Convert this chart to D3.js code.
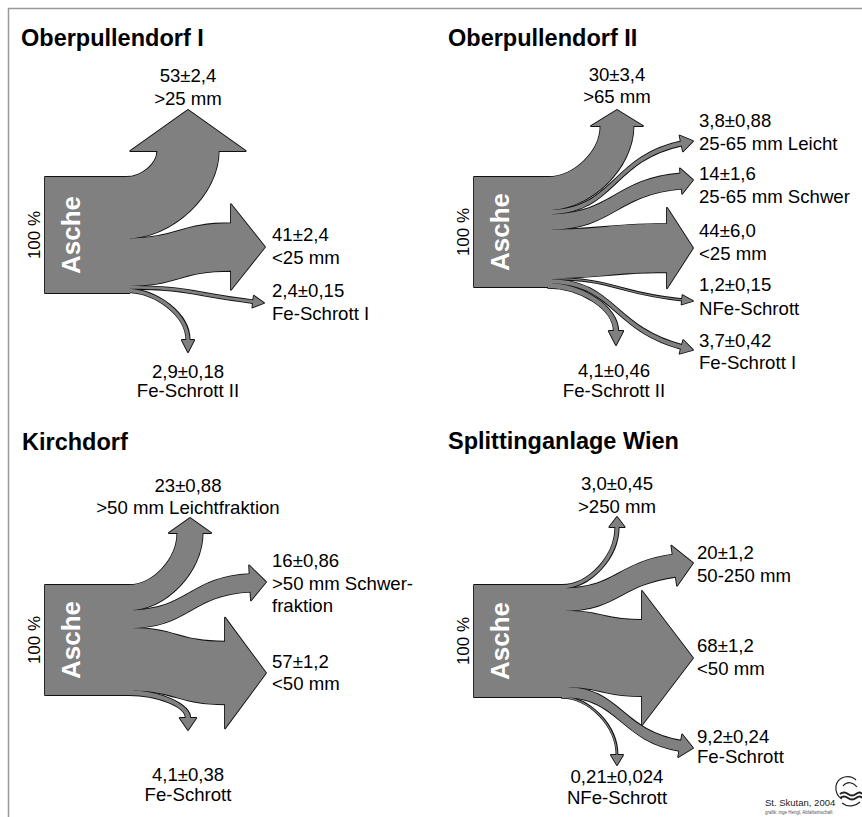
<!DOCTYPE html>
<html><head><meta charset="utf-8">
<script src="https://cdn.jsdelivr.net/npm/d3@7"></script>
<style>html,body{margin:0;padding:0;background:#fff;} svg{display:block;font-family:"Liberation Sans",Arial,sans-serif;}</style>
</head><body>
<svg id="c" width="862" height="817"></svg>
<script>
// ---------------- DATA ----------------
const panelTitles = ["Oberpullendorf I", "Oberpullendorf II", "Kirchdorf", "Splittinganlage Wien"];
const sourceName = "Asche";
const sourceTotal = 100;

const op1Names  = [">25 mm", "<25 mm", "Fe-Schrott I", "Fe-Schrott II"];
const op1Values = [53, 41, 2.4, 2.9];
const op1Errors = [2.4, 2.4, 0.15, 0.18];

const op2Names  = [">65 mm", "25-65 mm Leicht", "25-65 mm Schwer", "<25 mm", "NFe-Schrott", "Fe-Schrott I", "Fe-Schrott II"];
const op2Values = [30, 3.8, 14, 44, 1.2, 3.7, 4.1];
const op2Errors = [3.4, 0.88, 1.6, 6.0, 0.15, 0.42, 0.46];

const kdNames  = [">50 mm Leichtfraktion", ">50 mm Schwer-\nfraktion", "<50 mm", "Fe-Schrott"];
const kdValues = [23, 16, 57, 4.1];
const kdErrors = [0.88, 0.86, 1.2, 0.38];

const swNames  = [">250 mm", "50-250 mm", "<50 mm", "Fe-Schrott", "NFe-Schrott"];
const swValues = [3.0, 20, 68, 9.2, 0.21];
const swErrors = [0.45, 1.2, 1.2, 0.24, 0.024];

const creditText = "St. Skutan, 2004";
const creditSmall = "grafik: inge Hengl, Abfallwirtschaft";

// ---------------- LAYOUT (positions / styles) ----------------
const layouts = [
  {x0:45, y0:177, h:116, xr:130, tx:21, ty:46, flows:[
    {tip:[188,110], ang:-90, len:41, ext:27, lx:188, ly:82,  gap:23, anchor:"middle"},
    {tip:[265,247], ang:0,   len:34, ext:19, lx:272, ly:241, gap:23},
    {tip:[264,303], ang:7,   len:11, ext:4.5,lx:272, ly:297, gap:23},
    {tip:[188,352], ang:90,  len:12, ext:4.5,lx:188, ly:378, gap:19, anchor:"middle"}]},
  {x0:474, y0:177, h:110, xr:552, tx:448, ty:46, flows:[
    {tip:[617,110], ang:-90, len:16, ext:9.5, lx:617, ly:81,  gap:22, anchor:"middle"},
    {tip:[693,141], ang:-12, len:12, ext:6,   lx:699, ly:127, gap:23},
    {tip:[693,180], ang:-5,  len:12, ext:5,   lx:699, ly:180, gap:23},
    {tip:[693,248], ang:0,   len:26, ext:16,  lx:699, ly:237, gap:23},
    {tip:[693,301], ang:6,   len:11, ext:4,   lx:699, ly:291, gap:24},
    {tip:[693,350], ang:15,  len:12, ext:5,   lx:699, ly:347, gap:22},
    {tip:[616,345], ang:90,  len:14, ext:5,   lx:614, ly:377, gap:20, anchor:"middle"}]},
  {x0:45, y0:585, h:110, xr:133, tx:22, ty:450, flows:[
    {tip:[190,518], ang:-90, len:15, ext:8.5, lx:188, ly:492, gap:22, anchor:"middle"},
    {tip:[266,582], ang:-3,  len:16, ext:8.7, lx:272, ly:567, gap:22.5},
    {tip:[266,673], ang:0,   len:41, ext:24,  lx:272, ly:668, gap:22},
    {tip:[188,730], ang:90,  len:12, ext:6,   lx:188, ly:781, gap:20, anchor:"middle"}]},
  {x0:474, y0:585, h:112, xr:566, tx:448, ty:449, flows:[
    {tip:[617,517], ang:-90, len:10, ext:6,   lx:617, ly:490, gap:23, anchor:"middle"},
    {tip:[693,563], ang:-8,  len:19, ext:9,   lx:697, ly:559, gap:23},
    {tip:[693,658], ang:0,   len:51, ext:29,  lx:697, ly:652, gap:23},
    {tip:[693,748], ang:10,  len:13, ext:6.3, lx:697, ly:743, gap:20},
    {tip:[617,765], ang:90,  len:10, ext:5.5, lx:617, ly:783, gap:21, anchor:"middle"}]}
];

const FILL = "#808080", LINE = "#111";

// ---------------- DRAW ----------------
const svg = d3.select("#c");
svg.append("path").attr("d", "M8.5,817V8.5H862")
  .attr("fill", "none").attr("stroke", "#999").attr("stroke-width", 1.5);

const fmt = v => d3.format(".2r")(v).replace(".", ",");

const panels = [
  {names: op1Names, values: op1Values, errors: op1Errors},
  {names: op2Names, values: op2Values, errors: op2Errors},
  {names: kdNames,  values: kdValues,  errors: kdErrors},
  {names: swNames,  values: swValues,  errors: swErrors}
];

function flowPath(sx, sTop, sBot, f, w) {
  const a = f.ang * Math.PI / 180;
  const d = [Math.cos(a), Math.sin(a)];
  const n = [d[1], -d[0]];
  const base = [f.tip[0] - d[0]*f.len, f.tip[1] - d[1]*f.len];
  const hw = w/2;
  const bT = [base[0] + n[0]*hw, base[1] + n[1]*hw];
  const bB = [base[0] - n[0]*hw, base[1] - n[1]*hw];
  const hT = [base[0] + n[0]*(hw+f.ext), base[1] + n[1]*(hw+f.ext)];
  const hB = [base[0] - n[0]*(hw+f.ext), base[1] - n[1]*(hw+f.ext)];
  const t1 = f.t1 || 0.5, t2 = f.t2 || 0.5;
  function ctrl(p0, p3) {
    const c1 = Math.max(4, t1 * (p3[0]-p0[0]));
    const c2 = Math.max(4, t2 * ((p3[0]-p0[0])*d[0] + (p3[1]-p0[1])*d[1]));
    return [[p0[0]+c1, p0[1]], [p3[0]-d[0]*c2, p3[1]-d[1]*c2]];
  }
  const pT = [sx, sTop], pB = [sx, sBot];
  const cT = ctrl(pT, bT), cB = ctrl(pB, bB);
  const p = d3.path();
  p.moveTo(pT[0], pT[1]);
  p.bezierCurveTo(cT[0][0], cT[0][1], cT[1][0], cT[1][1], bT[0], bT[1]);
  p.lineTo(hT[0], hT[1]);
  p.lineTo(f.tip[0], f.tip[1]);
  p.lineTo(hB[0], hB[1]);
  p.lineTo(bB[0], bB[1]);
  p.bezierCurveTo(cB[1][0], cB[1][1], cB[0][0], cB[0][1], pB[0], pB[1]);
  p.closePath();
  return p.toString();
}

panels.forEach((P, i) => {
  const L = layouts[i];
  const y = d3.scaleLinear().domain([0, sourceTotal]).range([0, L.h]);
  const g = svg.append("g");

  g.append("text").attr("x", L.tx).attr("y", L.ty)
    .attr("font-size", 23.5).attr("font-weight", "bold").attr("fill", "#000")
    .text(panelTitles[i]);

  // trunk (open path so its right edge is not stroked)
  const trunkOutline = `M${L.xr},${L.y0}H${L.x0}V${L.y0 + y(sourceTotal)}H${L.xr}`;
  const shapes = [];
  let acc = 0;
  P.values.forEach((v, j) => {
    const top = L.y0 + y(acc);
    acc += v;
    const bot = L.y0 + y(acc);
    const w = Math.max(y(v), 1.1);
    const c = (top + bot) / 2;
    shapes.push(flowPath(L.xr - 4, c - w/2, c + w/2, L.flows[j], w));
  });

  const all = [trunkOutline].concat(shapes);
  g.selectAll("path.ol").data(all).join("path").attr("class", "ol")
    .attr("d", d => d).attr("fill", LINE).attr("stroke", LINE)
    .attr("stroke-width", 1.8).attr("stroke-linejoin", "round");
  g.selectAll("path.fl").data(all).join("path").attr("class", "fl")
    .attr("d", d => d).attr("fill", FILL).attr("stroke", "none");

  // source labels
  const cy = L.y0 + y(sourceTotal) / 2;
  g.append("text").attr("transform", `translate(${L.x0 + 35},${cy}) rotate(-90)`)
    .attr("text-anchor", "middle").attr("font-size", 26).attr("font-weight", "bold")
    .attr("fill", "#fff").text(sourceName);
  g.append("text").attr("transform", `translate(${L.x0 - 5},${cy}) rotate(-90)`)
    .attr("text-anchor", "middle").attr("font-size", 17).attr("fill", "#000")
    .text(sourceTotal + " %");

  // flow labels
  P.values.forEach((v, j) => {
    const f = L.flows[j];
    const lines = [fmt(v) + "±" + fmt(P.errors[j])].concat(P.names[j].split("\n"));
    lines.forEach((s, k) => {
      g.append("text").attr("x", f.lx).attr("y", f.ly + k * f.gap)
        .attr("text-anchor", f.anchor || "start")
        .attr("font-size", 18.6).attr("fill", "#000").text(s);
    });
  });
});

// credit + logo
svg.append("text").attr("x", 765).attr("y", 806).attr("font-size", 9.5).attr("fill", "#222").text(creditText);
svg.append("text").attr("x", 765).attr("y", 814).attr("font-size", 4.5).attr("fill", "#555").text(creditSmall);
const logo = svg.append("g").attr("fill", "none").attr("stroke", "#222");
logo.append("path").attr("d", "M856,780 C850,774 838,776 836,786 C835,792 838,797 842,799").attr("stroke-width", 1.2);
logo.append("path").attr("d", "M843,786 C847,781 853,782 857,787").attr("stroke-width", 1.2);
logo.append("path").attr("d", "M840,794 q4,-3 8,0 t8,0 t6,0").attr("stroke-width", 2);
logo.append("path").attr("d", "M840,798 q4,-3 8,0 t8,0 t6,0").attr("stroke-width", 2);
logo.append("path").attr("d", "M842,803 C848,808 856,806 860,802").attr("stroke-width", 1.2);
</script>
</body></html>
